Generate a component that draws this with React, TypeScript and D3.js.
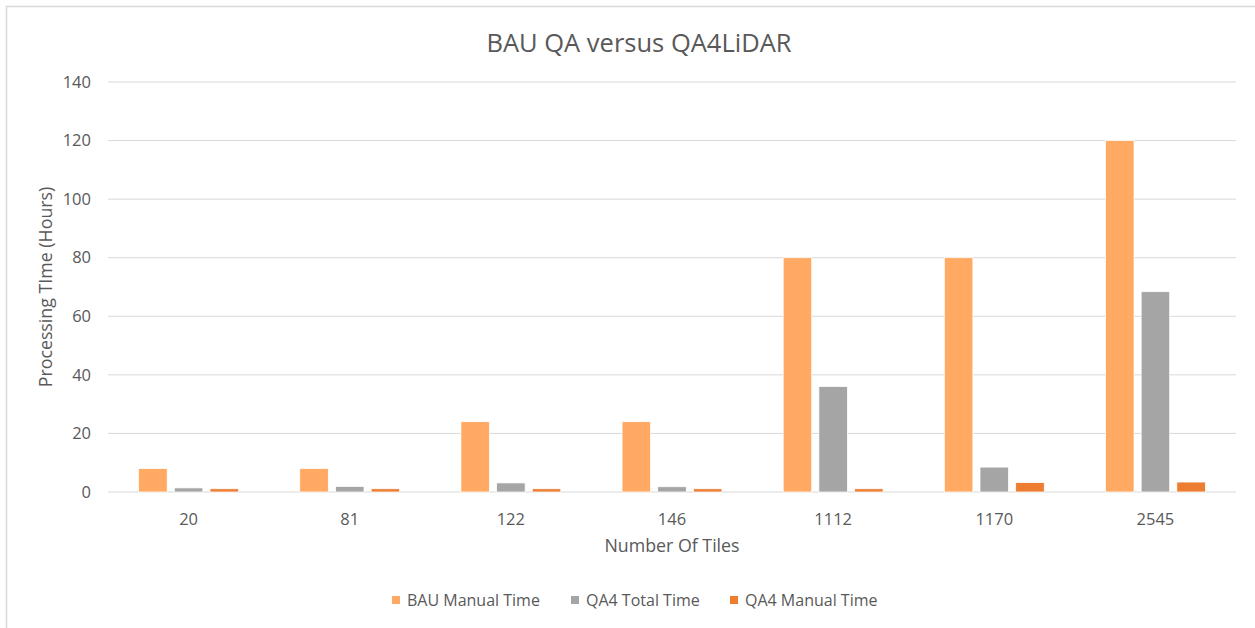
import React, { useRef, useEffect } from 'react';
import * as d3 from 'd3';

const categories = ['20', '81', '122', '146', '1112', '1170', '2545'];
const seriesNames = ['BAU Manual Time', 'QA4 Total Time', 'QA4 Manual Time'];
const bauManual = [8, 8, 24, 24, 80, 80, 120];
const qa4Total = [1.4, 1.9, 3.1, 1.8, 36, 8.5, 68.4];
const qa4Manual = [1.1, 1.1, 1.1, 1.1, 1.1, 3.2, 3.4];
const yTicks = [0, 20, 40, 60, 80, 100, 120, 140];
const colors = ['#FFA962', '#A5A5A5', '#ED7D31'];

const FONT = '"Open Sans", sans-serif';

const App: React.FC = () => {
  const svgRef = useRef<SVGSVGElement | null>(null);

  useEffect(() => {
    if (!svgRef.current) return;
    const svg = d3.select(svgRef.current);
    svg.selectAll('*').remove();

    const width = 1255;
    const height = 628;
    const plot = { left: 108, right: 1236, top: 82, bottom: 492 };

    // chart frame
    svg
      .append('rect')
      .attr('x', 6.5)
      .attr('y', 6.5)
      .attr('width', width + 20)
      .attr('height', height + 20)
      .attr('fill', '#fff')
      .attr('stroke', '#D9D9D9')
      .attr('stroke-width', 1.5);

    const x0 = d3
      .scaleBand()
      .domain(categories)
      .range([plot.left, plot.right])
      .paddingInner(0.38)
      .paddingOuter(0.19);

    const x1 = d3
      .scaleBand()
      .domain(seriesNames)
      .range([0, x0.bandwidth()])
      .paddingInner(0.2);

    const y = d3.scaleLinear().domain([0, 140]).range([plot.bottom, plot.top]);

    // gridlines
    svg
      .append('g')
      .selectAll('line')
      .data(yTicks)
      .enter()
      .append('line')
      .attr('x1', plot.left)
      .attr('x2', plot.right)
      .attr('y1', d => y(d))
      .attr('y2', d => y(d))
      .attr('stroke', '#D9D9D9')
      .attr('stroke-width', 1);

    // y tick labels
    svg
      .append('g')
      .selectAll('text')
      .data(yTicks)
      .enter()
      .append('text')
      .attr('x', 91)
      .attr('y', d => y(d))
      .attr('dy', '0.35em')
      .attr('text-anchor', 'end')
      .attr('font-family', FONT)
      .attr('font-size', 16.5)
      .attr('fill', '#595959')
      .text(d => d);

    // bars
    const series = [bauManual, qa4Total, qa4Manual];
    const group = svg
      .append('g')
      .selectAll('g')
      .data(categories)
      .enter()
      .append('g')
      .attr('transform', d => `translate(${x0(d)},0)`);

    group
      .selectAll('rect')
      .data((_, i) => seriesNames.map((name, s) => ({ name, s, value: series[s][i] })))
      .enter()
      .append('rect')
      .attr('x', d => x1(d.name)!)
      .attr('y', d => y(d.value))
      .attr('width', x1.bandwidth())
      .attr('height', d => y(0) - y(d.value))
      .attr('fill', d => colors[d.s])
      .attr('stroke', '#fff')
      .attr('stroke-width', 0.75);

    // x tick labels
    svg
      .append('g')
      .selectAll('text')
      .data(categories)
      .enter()
      .append('text')
      .attr('x', d => x0(d)! + x0.bandwidth() / 2)
      .attr('y', 519)
      .attr('dy', '0.35em')
      .attr('text-anchor', 'middle')
      .attr('font-family', FONT)
      .attr('font-size', 16.5)
      .attr('fill', '#595959')
      .text(d => d);

    // title
    svg
      .append('text')
      .attr('x', 639)
      .attr('y', 43)
      .attr('dy', '0.35em')
      .attr('text-anchor', 'middle')
      .attr('font-family', FONT)
      .attr('font-size', 25.5)
      .attr('fill', '#595959')
      .text('BAU QA versus QA4LiDAR');

    // axis titles
    svg
      .append('text')
      .attr('x', (plot.left + plot.right) / 2)
      .attr('y', 546)
      .attr('dy', '0.35em')
      .attr('text-anchor', 'middle')
      .attr('font-family', FONT)
      .attr('font-size', 17.8)
      .attr('fill', '#595959')
      .text('Number Of Tiles');

    svg
      .append('text')
      .attr('transform', `translate(46,${(plot.top + plot.bottom) / 2}) rotate(-90)`)
      .attr('dy', '0.35em')
      .attr('text-anchor', 'middle')
      .attr('font-family', FONT)
      .attr('font-size', 17.8)
      .attr('fill', '#595959')
      .text('Processing TIme (Hours)');

    // legend
    const legendX = [392, 571, 730];
    const legend = svg
      .append('g')
      .selectAll('g')
      .data(seriesNames)
      .enter()
      .append('g')
      .attr('transform', (_, i) => `translate(${legendX[i]},600)`);

    legend
      .append('rect')
      .attr('x', 0)
      .attr('y', -4)
      .attr('width', 8)
      .attr('height', 8)
      .attr('fill', (_, i) => colors[i]);

    legend
      .append('text')
      .attr('x', 15)
      .attr('y', 0)
      .attr('dy', '0.35em')
      .attr('font-family', FONT)
      .attr('font-size', 16)
      .attr('fill', '#595959')
      .text(d => d);
  }, []);

  return (
    <svg
      ref={svgRef}
      width={1255}
      height={628}
      style={{ position: 'absolute', left: 0, top: 0, background: '#fff' }}
    ></svg>
  );
};

export default App;
